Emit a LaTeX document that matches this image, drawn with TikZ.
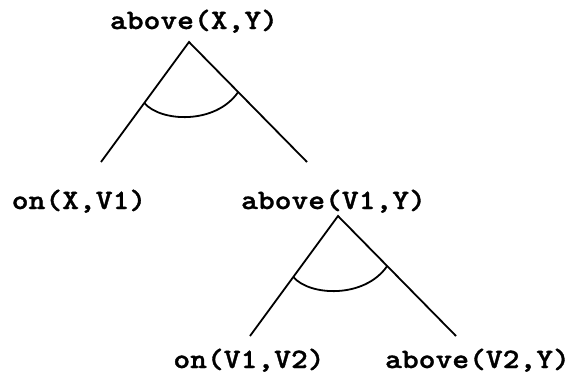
\documentclass[tikz,border=0pt]{standalone}
\usepackage{fontspec}
\newfontfamily\courb{lmmonolt10-bold.otf}[FakeStretch=1.143,FakeBold=1.2]
\usetikzlibrary{calc}
\begin{document}
\begin{tikzpicture}[x=1pt,y=-1pt,
  lbl/.style={font=\courb\fontsize{28}{34}\selectfont, inner sep=0pt, anchor=base},
  edge/.style={line width=1.8pt},
  arcline/.style={line width=1.8pt}]
\useasboundingbox (0,0) rectangle (574,381);
% labels
\node[lbl] (r)  at (194,29) {above(X,Y)};
\node[lbl] (a)  at (79,209) {on(X,V1)};
\node[lbl] (b)  at (333.5,209) {above(V1,Y)};
\node[lbl] (c)  at (249,368) {on(V1,V2)};
\node[lbl] (d)  at (477.5,368) {above(V2,Y)};
% tree 1
\coordinate (t1) at (189,42);
\coordinate (l1) at (101,162);
\coordinate (r1) at (307,162);
\draw[edge] (l1) -- (t1) -- (r1);
\coordinate (al1) at ($(t1)!0.508!(l1)$);
\coordinate (ar1) at ($(t1)!0.417!(r1)$);
\draw[arcline] (al1) .. controls +(16,19) and +(-23,33) .. (ar1);
% tree 2
\coordinate (t2) at (338,216);
\coordinate (l2) at (250,336);
\coordinate (r2) at (456,336);
\draw[edge] (l2) -- (t2) -- (r2);
\coordinate (al2) at ($(t2)!0.508!(l2)$);
\coordinate (ar2) at ($(t2)!0.417!(r2)$);
\draw[arcline] (al2) .. controls +(16,19) and +(-23,33) .. (ar2);
\end{tikzpicture}
\end{document}
